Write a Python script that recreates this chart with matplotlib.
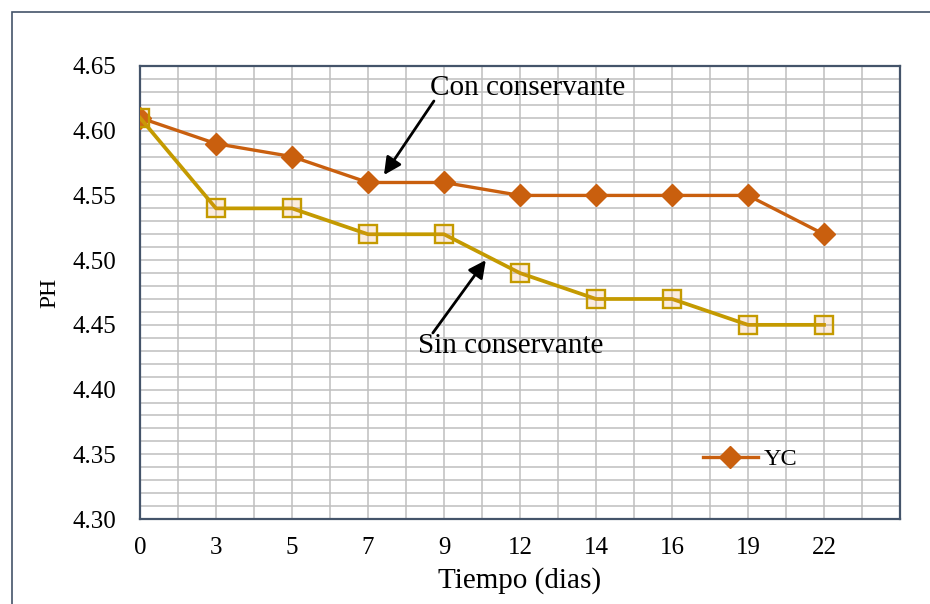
import matplotlib
matplotlib.use("Agg")
import matplotlib.pyplot as plt
from matplotlib.patches import Rectangle
from matplotlib.lines import Line2D
from matplotlib.ticker import MultipleLocator

# pH over storage time
dias = ["0", "3", "5", "7", "9", "12", "14", "16", "19", "22"]
ph_con = [4.61, 4.59, 4.58, 4.56, 4.56, 4.55, 4.55, 4.55, 4.55, 4.52]
ph_sin = [4.61, 4.54, 4.54, 4.52, 4.52, 4.49, 4.47, 4.47, 4.45, 4.45]
y_ticks = [4.30, 4.35, 4.40, 4.45, 4.50, 4.55, 4.60, 4.65]

ORANGE = "#C95F0E"
GOLD = "#C49A00"
SPINE = "#44546A"
GRID = "#BFBFBF"

plt.rcParams["font.family"] = ["Liberation Serif", "DejaVu Serif"]

fig = plt.figure(figsize=(9.3, 6.04), dpi=100)
ax = fig.add_axes([140 / 930, 1 - 519 / 604, 760 / 930, 453 / 604])

x = list(range(len(dias)))

ax.plot(x, ph_con, color=ORANGE, lw=2.4, marker="D", markersize=11.5,
        markerfacecolor=ORANGE, markeredgecolor=ORANGE, zorder=3, label="YC")
ax.plot(x, ph_sin, color=GOLD, lw=2.7, marker="s", markersize=12.5,
        markerfacecolor=(0.93, 0.55, 0.2, 0.15), markeredgecolor=GOLD,
        markeredgewidth=1.7, zorder=4)

ax.set_xlim(0, len(dias))
ax.set_ylim(y_ticks[0], y_ticks[-1])
ax.set_xticks(x)
ax.set_xticklabels(dias)
ax.set_yticks(y_ticks)
ax.set_yticklabels([f"{v:.2f}" for v in y_ticks])

# grid: half-category verticals, 0.01 horizontals
ax.xaxis.set_minor_locator(MultipleLocator(0.5))
ax.yaxis.set_minor_locator(MultipleLocator(0.01))
ax.grid(which="both", color=GRID, lw=1.1, zorder=0)
ax.set_axisbelow(True)
ax.tick_params(which="both", length=0)
ax.tick_params(axis="x", labelsize=18, pad=13)
ax.tick_params(axis="y", labelsize=18, pad=17)

for s in ax.spines.values():
    s.set_color(SPINE)
    s.set_linewidth(1.6)

ax.set_xlabel("Tiempo (dias)", fontsize=21, labelpad=6)
ax.set_ylabel("PH", fontsize=17)
ax.yaxis.set_label_coords(-0.105, 0.5)

# annotations
ax.annotate("Con conservante", xy=(3.21, 4.5658), xytext=(3.816, 4.633),
            fontsize=21, va="center", ha="left",
            arrowprops=dict(arrowstyle="-|>", color="black", lw=2.0,
                            mutation_scale=26, shrinkA=0, shrinkB=0,
                            patchA=None, relpos=(0.02, 0.0)))
ax.annotate("Sin conservante", xy=(4.55, 4.500), xytext=(3.658, 4.4337),
            fontsize=21, va="center", ha="left",
            arrowprops=dict(arrowstyle="-|>", color="black", lw=2.0,
                            mutation_scale=26, shrinkA=0, shrinkB=0,
                            patchA=None, relpos=(0.08, 1.0)))

# legend with the single YC entry
handle = Line2D([], [], color=ORANGE, lw=2.4, marker="D", markersize=11.5)
ax.legend([handle], ["YC"], loc="center left", frameon=False,
          bbox_to_anchor=(703 / 930, 1 - 459 / 604),
          bbox_transform=fig.transFigure, borderaxespad=0, borderpad=0,
          handlelength=2.25, handletextpad=0.25, fontsize=17.5)

# outer chart frame
fig.patches.append(Rectangle((12 / 930, -0.2), 1.2, 1.2 - 12 / 604,
                             transform=fig.transFigure, fill=False,
                             edgecolor=SPINE, lw=1.2, clip_on=False))

fig.savefig("out.png", dpi=100)
